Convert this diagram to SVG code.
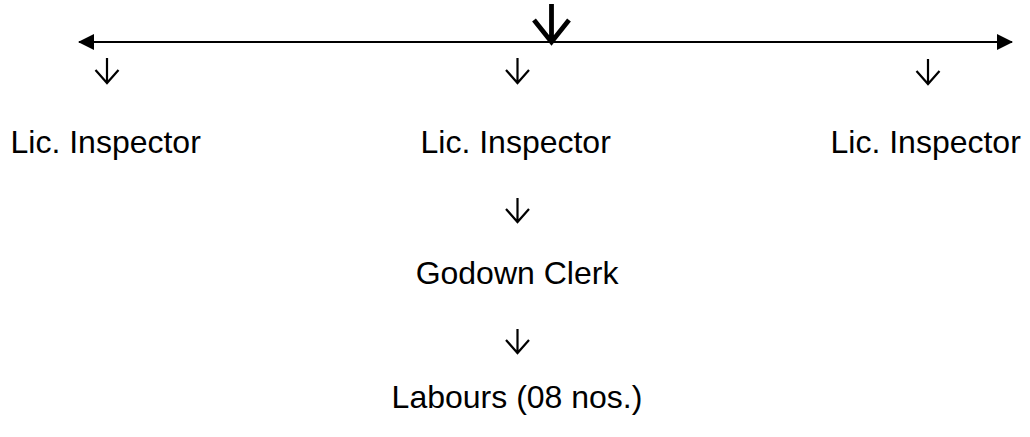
<svg xmlns="http://www.w3.org/2000/svg" width="1030" height="437" viewBox="0 0 1030 437">
<defs>
<style>
text{font-family:"Liberation Sans",Arial,sans-serif;font-size:32px;fill:#000}
.arr{fill:none;stroke:#000;stroke-width:2.2}
.big{fill:none;stroke:#000;stroke-width:4.8}
</style>
<marker id="ah" viewBox="0 0 16 16" refX="15" refY="8" markerWidth="16" markerHeight="16" markerUnits="userSpaceOnUse" orient="auto-start-reverse"><path d="M0,0 L16,8 L0,16 Z" fill="#000"/></marker>
</defs>
<rect width="1030" height="437" fill="#fff"/>
<g id="connectors">
<line x1="79" y1="42" x2="1012" y2="42" stroke="#000" stroke-width="2" marker-start="url(#ah)" marker-end="url(#ah)"/>
<path class="big" d="M551.5,4 V42 M534,20 L551.5,42 L569,20"/>
<path class="arr" d="M107,58 V83 M95.5,70 L107,83 L118.5,70"/>
<path class="arr" d="M517.5,58 V83 M506,70 L517.5,83 L529,70"/>
<path class="arr" d="M928,59 V84 M916.5,71 L928,84 L939.5,71"/>
<path class="arr" d="M517.5,198 V222 M506,209 L517.5,222 L529,209"/>
<path class="arr" d="M517.5,329 V353 M506,340 L517.5,353 L529,340"/>
</g>
<g id="n1"><text x="10.5" y="153">Lic. Inspector</text></g>
<g id="n2"><text x="420.5" y="153">Lic. Inspector</text></g>
<g id="n3"><text x="830.5" y="153">Lic. Inspector</text></g>
<g id="n4"><text x="517" y="284" text-anchor="middle">Godown Clerk</text></g>
<g id="n5"><text x="517" y="408" text-anchor="middle">Labours (08 nos.)</text></g>
</svg>
